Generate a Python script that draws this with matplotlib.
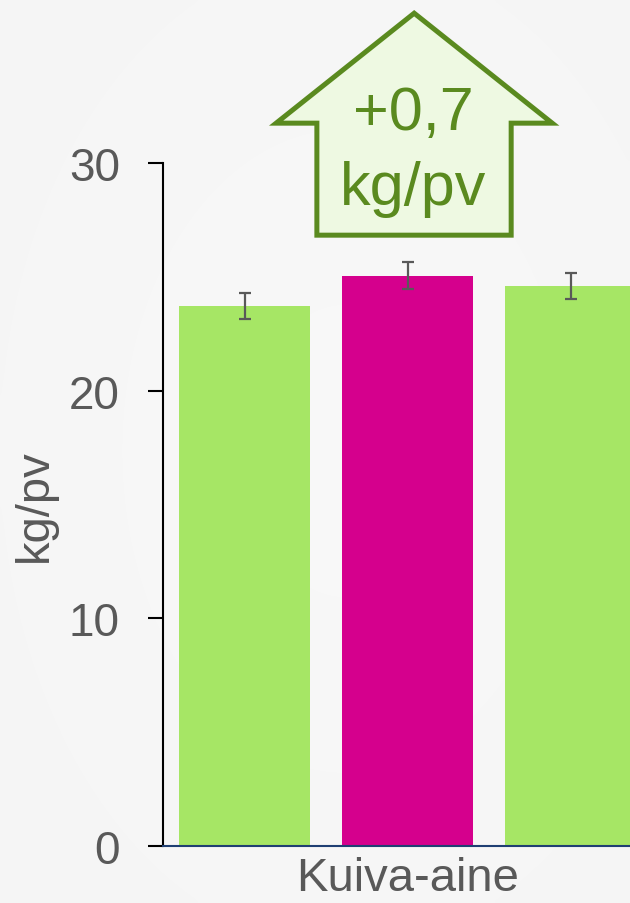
import numpy as np
import matplotlib.pyplot as plt
from matplotlib.patches import Polygon

# ── Data ───────────────────────────────────────────────────────────────────
category = "Kuiva-aine"
values = [23.73, 25.05, 24.59]          # kg/pv
errors = [0.58, 0.58, 0.58]
bar_colors = ["#a6e665", "#d5008d", "#a6e665"]
yticks = [0, 10, 20, 30]
diff_label = "+0,7"
unit_label = "kg/pv"

text_gray = "#595959"
green_dark = "#5a8a1f"
green_fill = "#eef9e2"

plt.rcParams["font.family"] = ["Liberation Sans", "DejaVu Sans"]

fig = plt.figure(figsize=(6.3, 9.04), dpi=100)

# ── Soft background gradient ───────────────────────────────────────────────
bg = fig.add_axes([0, 0, 1, 1], zorder=-10)
yy, xx = np.mgrid[0:1:200j, 0:1:140j]
r = np.sqrt(((xx - 0.55) / 0.9) ** 2 + ((yy - 0.5) / 0.9) ** 2)
bg.imshow(0.972 - 0.018 * r, cmap="gray", vmin=0, vmax=1, aspect="auto",
          extent=[0, 1, 0, 1], interpolation="bicubic")
bg.axis("off")

# ── Bars ───────────────────────────────────────────────────────────────────
ax = fig.add_axes([163 / 630, 57 / 904, 489 / 630, 683 / 904])
ax.patch.set_alpha(0)
x = np.arange(len(values))
ax.bar(x, values, width=0.8, color=bar_colors, zorder=2)
ax.errorbar(x, values, yerr=errors, fmt="none", ecolor=text_gray,
            elinewidth=1.6, capsize=4.3, capthick=1.6, zorder=3)

ax.set_xlim(-0.5, 2.5)
ax.set_ylim(0, 30)
ax.set_yticks(yticks)
ax.set_xticks([1])
ax.set_xticklabels([category])
ax.set_ylabel(unit_label, fontsize=34, color=text_gray, labelpad=9)

ax.tick_params(axis="y", length=11, width=1.5, color="black", pad=20,
               labelsize=33, labelcolor=text_gray)
ax.tick_params(axis="x", length=0, pad=7, labelsize=34, labelcolor=text_gray)

for s in ["top", "right"]:
    ax.spines[s].set_visible(False)
ax.spines["left"].set_linewidth(1.5)
ax.spines["left"].set_color("black")
ax.spines["bottom"].set_linewidth(1.5)
ax.spines["bottom"].set_color("#1f3f73")
ax.spines["bottom"].set_zorder(4)

# ── Up-arrow annotation ─────────────────────────────────────────────────────
shaft_l, shaft_r = 0.444, 1.636
wing_l, wing_r = 0.194, 1.888
tip_x, tip_y = 1.041, 36.58
wing_y, bottom_y = 31.75, 26.83
arrow = Polygon([(tip_x, tip_y), (wing_r, wing_y), (shaft_r, wing_y),
                 (shaft_r, bottom_y), (shaft_l, bottom_y), (shaft_l, wing_y),
                 (wing_l, wing_y)], closed=True, facecolor=green_fill,
                edgecolor=green_dark, linewidth=3.6, joinstyle="miter",
                clip_on=False, zorder=5)
ax.add_patch(arrow)
ax.text(1.035, 31.49, diff_label, ha="center", va="baseline", fontsize=44,
        color=green_dark, zorder=6, clip_on=False)
ax.text(1.035, 28.19, unit_label, ha="center", va="baseline", fontsize=44,
        color=green_dark, zorder=6, clip_on=False)

fig.savefig("out.png", dpi=100)
